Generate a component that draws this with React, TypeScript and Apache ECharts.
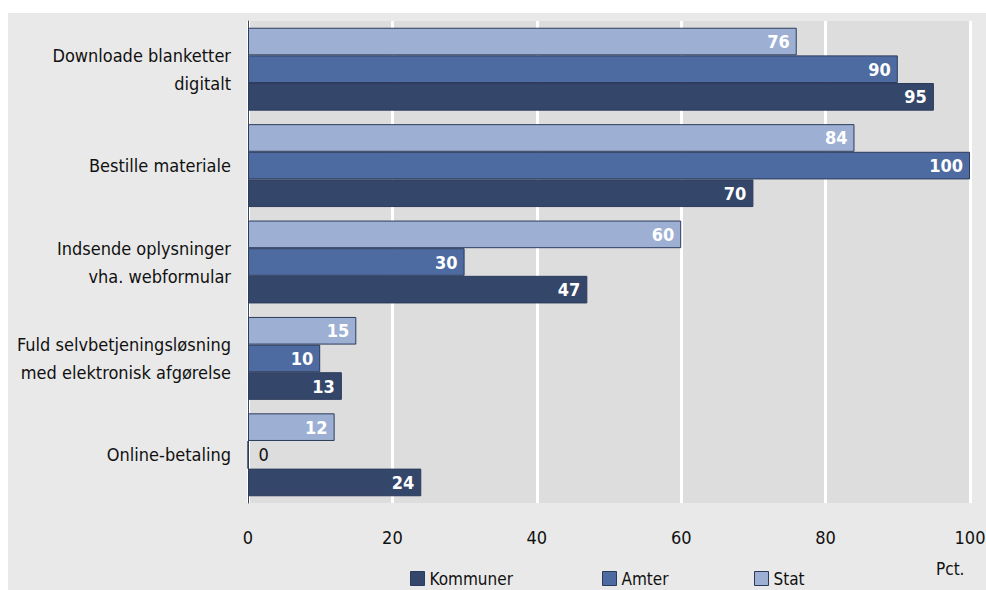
import React, { useEffect, useRef } from "react";
import * as echarts from "echarts";

const categories = [
  "Downloade blanketter\ndigitalt",
  "Bestille materiale",
  "Indsende oplysninger\nvha. webformular",
  "Fuld selvbetjeningsløsning\nmed elektronisk afgørelse",
  "Online-betaling",
];
const statValues = [76, 84, 60, 15, 12];
const amterValues = [90, 100, 30, 10, 0];
const kommunerValues = [95, 70, 47, 13, 24];
const xTicks = [0, 20, 40, 60, 80, 100];

const FONT = "'DejaVu Sans Condensed', 'Noto Sans', sans-serif";
const C_STAT = "#9db0d4";
const C_AMTER = "#4d6ba0";
const C_KOM = "#344669";
const BORDER = "#2c3b5c";

export default function App() {
  const ref = useRef<HTMLDivElement>(null);
  useEffect(() => {
    const chart = echarts.init(ref.current!, undefined, { renderer: "svg" });
    const valLabel = {
      show: true,
      position: "insideRight",
      distance: 7,
      color: "#ffffff",
      fontWeight: "bold",
      fontSize: 18,
      fontFamily: FONT,
    };
    const mk = (name: string, vals: number[], color: string) => ({
      name,
      type: "bar",
      data: vals.map((v) =>
        v === 0
          ? {
              value: v,
              label: {
                show: true,
                position: "right",
                distance: 10,
                color: "#111",
                fontWeight: "normal",
                fontSize: 18,
                fontFamily: FONT,
              },
            }
          : v
      ),
      barGap: "0%",
      barCategoryGap: "14%",
      itemStyle: { color, borderColor: BORDER, borderWidth: 1 },
      label: valLabel,
    });
    const legendBase = {
      orient: "horizontal",
      top: 570,
      padding: 0,
      itemWidth: 14,
      itemHeight: 14,
      itemGap: 6,
      icon: "rect",
      textStyle: { fontSize: 17, fontFamily: FONT, color: "#111", padding: [0, 0, 0, 0] },
      itemStyle: { borderColor: BORDER, borderWidth: 1 },
    };
    chart.setOption({
      animation: false,
      backgroundColor: "#ffffff",
      graphic: [
        {
          type: "rect",
          z: -10,
          silent: true,
          shape: { x: 8, y: 13, width: 978, height: 577 },
          style: { fill: "#e9e9e9" },
        },
        {
          type: "text",
          x: 936,
          y: 560,
          style: { text: "Pct.", fontSize: 17, fontFamily: FONT, fill: "#111" },
        },
      ],
      grid: {
        left: 248,
        right: 16,
        top: 21,
        bottom: 87,
        show: true,
        backgroundColor: "#dddddd",
        borderWidth: 0,
        containLabel: false,
        outerBoundsMode: "none",
      },
      legend: [
        { ...legendBase, left: 410, data: ["Kommuner"] },
        { ...legendBase, left: 602, data: ["Amter"] },
        { ...legendBase, left: 754, data: ["Stat"] },
      ],
      xAxis: {
        type: "value",
        min: xTicks[0],
        max: xTicks[xTicks.length - 1],
        interval: 20,
        axisLine: { show: false },
        axisTick: { show: false },
        axisLabel: {
          margin: 25,
          fontSize: 18,
          fontFamily: FONT,
          color: "#111",
        },
        splitLine: { show: true, lineStyle: { color: "#ffffff", width: 3 } },
      },
      yAxis: {
        type: "category",
        data: categories,
        inverse: true,
        axisLine: { show: true, lineStyle: { color: "#3a4560", width: 1 } },
        axisTick: { show: false },
        axisLabel: {
          margin: 17,
          fontSize: 18,
          lineHeight: 28,
          fontFamily: FONT,
          color: "#111",
          align: "right",
          interval: 0,
        },
      },
      series: [
        mk("Stat", statValues, C_STAT),
        mk("Amter", amterValues, C_AMTER),
        mk("Kommuner", kommunerValues, C_KOM),
      ],
    });
    return () => chart.dispose();
  }, []);
  return (
    <div
      ref={ref}
      style={{ position: "fixed", left: 0, top: 0, width: 986, height: 590 }}
    />
  );
}
